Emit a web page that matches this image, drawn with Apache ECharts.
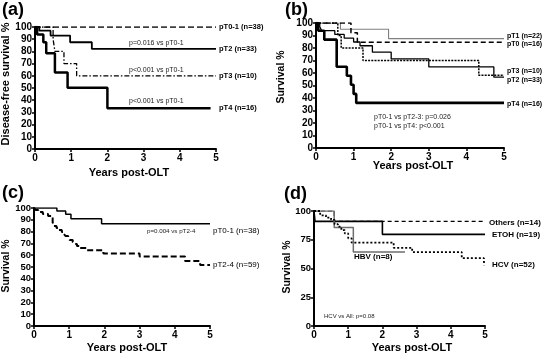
<!DOCTYPE html>
<html><head><meta charset="utf-8">
<script src="https://cdn.jsdelivr.net/npm/echarts@6/dist/echarts.min.js"></script>
<style>html,body{margin:0;padding:0;background:#fff}#c{width:543px;height:355px}</style>
</head><body><div id="c"></div>
<script>
// ---------- DATA ----------
const xTicks = [0, 1, 2, 3, 4, 5];
const yTicksABC = [0,10,20,30,40,50,60,70,80,90,100];
const yTicksD = [0, 25, 50, 75, 100];

// Panel (a): disease-free survival by pT stage  [years, %]
const a_pT01 = [[0,100],[5,100]];
const a_pT2  = [[0,100],[0.12,97],[0.43,93],[0.97,87.5],[1.57,82],[5,82]];
const a_pT3  = [[0,100],[0.5,90],[0.55,80],[0.8,70],[1.15,60],[5,60]];
const a_pT4  = [[0,100],[0.06,93.8],[0.23,87.5],[0.31,78.5],[0.55,62.8],[0.9,50.2],[2.0,33.5],[4.85,33.5]];

// Panel (b): survival by pT stage
const b_pT1 = [[0,100],[0.65,95],[1.93,87.5],[5,87.5]];
const b_pT0 = [[0,100],[0.93,92.3],[1.1,84.6],[5,84.6]];
const b_pT2 = [[0,100],[0.1,97],[0.15,93.9],[0.5,90.9],[0.75,87.9],[1.0,84.8],[1.17,81.8],[1.5,76.7],[2.0,71.3],[3.0,64.9],[4.73,56.7],[5,56.7]];
const b_pT3 = [[0,100],[0.58,90],[0.67,80],[1.25,70],[4.33,58.3],[5,58.3]];
const b_pT4 = [[0,100],[0.06,93.8],[0.22,86.7],[0.55,65],[0.82,57.8],[0.93,50.6],[1.0,43.3],[1.07,36.1],[5,36.1]];

// Panel (c): survival pT0-1 vs pT2-4
const c_pT01 = [[0,100],[0.65,97.4],[0.9,94.7],[1.05,90.9],[1.92,86.6],[5,86.6]];
const c_pT24 = [[0,100],[0.05,98.3],[0.12,96.6],[0.25,94.9],[0.4,93.2],[0.53,88],[0.56,84.7],[0.64,83],[0.7,81.3],[0.79,79.6],[0.85,77.9],[0.9,76.2],[0.97,74.5],[1.02,72.8],[1.1,71.1],[1.15,69.4],[1.22,67.7],[1.3,66],[1.5,64.3],[1.97,61.5],[3.0,58.8],[4.29,55.1],[4.72,51.7],[5,51.7]];

// Panel (d): survival by aetiology
const d_others = [[0,100],[0.59,91],[5,91]];
const d_etoh   = [[0,100],[0.03,91],[2.0,79.7],[5,79.7]];
const d_hbv    = [[0,100],[0.59,85.7],[1.15,64.3],[2.66,64.3]];
const d_hcv    = [[0,100],[0.18,96.2],[0.35,94.2],[0.5,92.3],[0.6,88.5],[0.7,86.5],[0.8,83.4],[0.9,80.5],[1.0,76.2],[1.1,72.5],[2.33,68],[2.87,64.3],[4.32,59],[4.97,52.8]];

// Texts
const panelLetters = ['(a)','(b)','(c)','(d)'];
const xTitle = 'Years post-OLT';
const yTitles = ['Disease-free survival %','Survival %','Survival %','Survival %'];
const aLabels = ['pT0-1 (n=38)','pT2 (n=33)','pT3 (n=10)','pT4 (n=16)'];
const aP = ['p=0.016 vs pT0-1','p<0.001 vs pT0-1','p<0.001 vs pT0-1'];
const bLabels = ['pT1 (n=22)','pT0 (n=16)','pT3 (n=10)','pT2 (n=33)','pT4 (n=16)'];
const bP = ['pT0-1 vs pT2-3: p=0.026','pT0-1 vs pT4: p<0.001'];
const cLabels = ['pT0-1 (n=38)','pT2-4 (n=59)'];
const cP = ['p=0.004 vs pT2-4'];
const dLabels = ['Others (n=14)','ETOH (n=19)','HBV (n=8)','HCV (n=52)'];
const dP = ['HCV vs All: p=0.08'];

// ---------- CHART ----------
const FF = '"Liberation Sans", Arial, sans-serif';
const grids = [
  {left:35, top:27, width:181, height:122},
  {left:316, top:23, width:188, height:125},
  {left:34, top:208, width:176, height:118},
  {left:314, top:211, width:171, height:115}
];
const axisCommon = {
  axisLine:{show:true, onZero:false, lineStyle:{color:'#000', width:2}},
  axisTick:{show:true, length:3, lineStyle:{color:'#000', width:1.5}},
  splitLine:{show:false}
};
const xAxes = grids.map((g,i)=>Object.assign({}, axisCommon, {
  type:'value', gridIndex:i, min:xTicks[0], max:xTicks[xTicks.length-1], interval:1,
  axisLabel:{color:'#000', fontWeight:'bold', fontSize:10, fontFamily:FF, margin:4}
}));
const yAxes = grids.map((g,i)=>Object.assign({}, axisCommon, {
  type:'value', gridIndex:i, min:0, max:100, interval: i===3 ? yTicksD[1] : yTicksABC[1],
  axisLabel:{color:'#000', fontWeight:'bold', fontSize: i>=2?9.5:10, fontFamily:FF, margin:3}
}));

function km(data, gi, opts){
  return {
    type:'line', step:'end', xAxisIndex:gi, yAxisIndex:gi, data:data,
    symbol:'none', silent:true, animation:false,
    lineStyle:Object.assign({color:'#000', width:1.5, type:'solid'}, opts||{})
  };
}
const series = [
  km(a_pT01,0,{type:[6,3],width:1.5}),
  km(a_pT2,0,{width:1.8}),
  km(a_pT3,0,{type:[5,2,1.5,2],width:1.3}),
  km(a_pT4,0,{width:2.5}),
  km(b_pT1,1,{color:'#808080',width:1.1}),
  km(b_pT0,1,{type:[5,3],width:1.5}),
  km(b_pT2,1,{width:1.3}),
  km(b_pT3,1,{type:[2,1.2],width:1.5}),
  km(b_pT4,1,{width:2.6}),
  km(c_pT01,2,{width:1.5}),
  km(c_pT24,2,{type:[6,3],width:2}),
  km(d_others,3,{type:[4,3],width:1.1}),
  km(d_etoh,3,{width:1.6}),
  km(d_hbv,3,{color:'#6e6e6e',width:1.5}),
  km(d_hcv,3,{type:[2,2],width:1.8})
];

function txt(s, x, y, size, weight, align, rot, color){
  return {type:'text', x:x, y:y, rotation:rot||0, silent:true,
    style:{text:s, font: weight+' '+size+'px '+FF, fill:color||'#000',
      textAlign:align||'left', textVerticalAlign:'middle'}};
}
const R = Math.PI/2;
const graphics = [
  txt(panelLetters[0], 2, 10, 18, 'bold'),
  txt(panelLetters[1], 285, 10, 18, 'bold'),
  txt(panelLetters[2], 2, 193, 18, 'bold'),
  txt(panelLetters[3], 284, 194, 18, 'bold'),
  txt(yTitles[0], 6, 84, 11, 'bold', 'center', R),
  txt(yTitles[1], 281, 77, 10.5, 'bold', 'center', R),
  txt(yTitles[2], 6, 266, 10.5, 'bold', 'center', R),
  txt(yTitles[3], 287, 267, 10.5, 'bold', 'center', R),
  txt(xTitle, 129, 173, 11, 'bold', 'center'),
  txt(xTitle, 413, 166, 11, 'bold', 'center'),
  txt(xTitle, 127, 348, 11, 'bold', 'center'),
  txt(xTitle, 412, 348, 11, 'bold', 'center'),
  // (a)
  txt(aLabels[0], 219, 27, 7.5, 'bold'),
  txt(aLabels[1], 219, 49, 7.5, 'bold'),
  txt(aLabels[2], 219, 76, 7.5, 'bold'),
  txt(aLabels[3], 219, 108, 7.5, 'bold'),
  txt(aP[0], 129, 43, 7, 'normal', 'left', 0, '#222'),
  txt(aP[1], 129, 70, 7, 'normal', 'left', 0, '#222'),
  txt(aP[2], 129, 101, 7, 'normal', 'left', 0, '#222'),
  // (b)
  txt(bLabels[0], 507, 36, 7, 'bold'),
  txt(bLabels[1], 507, 44, 7, 'bold'),
  txt(bLabels[2], 507, 71, 7, 'bold'),
  txt(bLabels[3], 507, 80, 7, 'bold'),
  txt(bLabels[4], 507, 104, 7, 'bold'),
  txt(bP[0], 374, 117, 7, 'normal', 'left', 0, '#222'),
  txt(bP[1], 374, 126, 7, 'normal', 'left', 0, '#222'),
  // (c)
  txt(cLabels[0], 213, 231, 8, 'normal'),
  txt(cLabels[1], 213, 265, 8, 'normal'),
  txt(cP[0], 147, 231, 6.2, 'normal', 'left', 0, '#222'),
  // (d)
  txt(dLabels[0], 489, 223, 8, 'bold'),
  txt(dLabels[1], 492, 235, 8, 'bold'),
  txt(dLabels[2], 354, 257, 8, 'bold'),
  txt(dLabels[3], 492, 265, 8, 'bold'),
  txt(dP[0], 324, 316, 6, 'normal', 'left', 0, '#222')
];

const chart = echarts.init(document.getElementById('c'), null, {renderer:'canvas'});
chart.setOption({
  animation:false,
  backgroundColor:'#fff',
  grid: grids.map(g=>Object.assign({containLabel:false}, g)),
  xAxis: xAxes,
  yAxis: yAxes,
  series: series,
  graphic: graphics
});
</script></body></html>
